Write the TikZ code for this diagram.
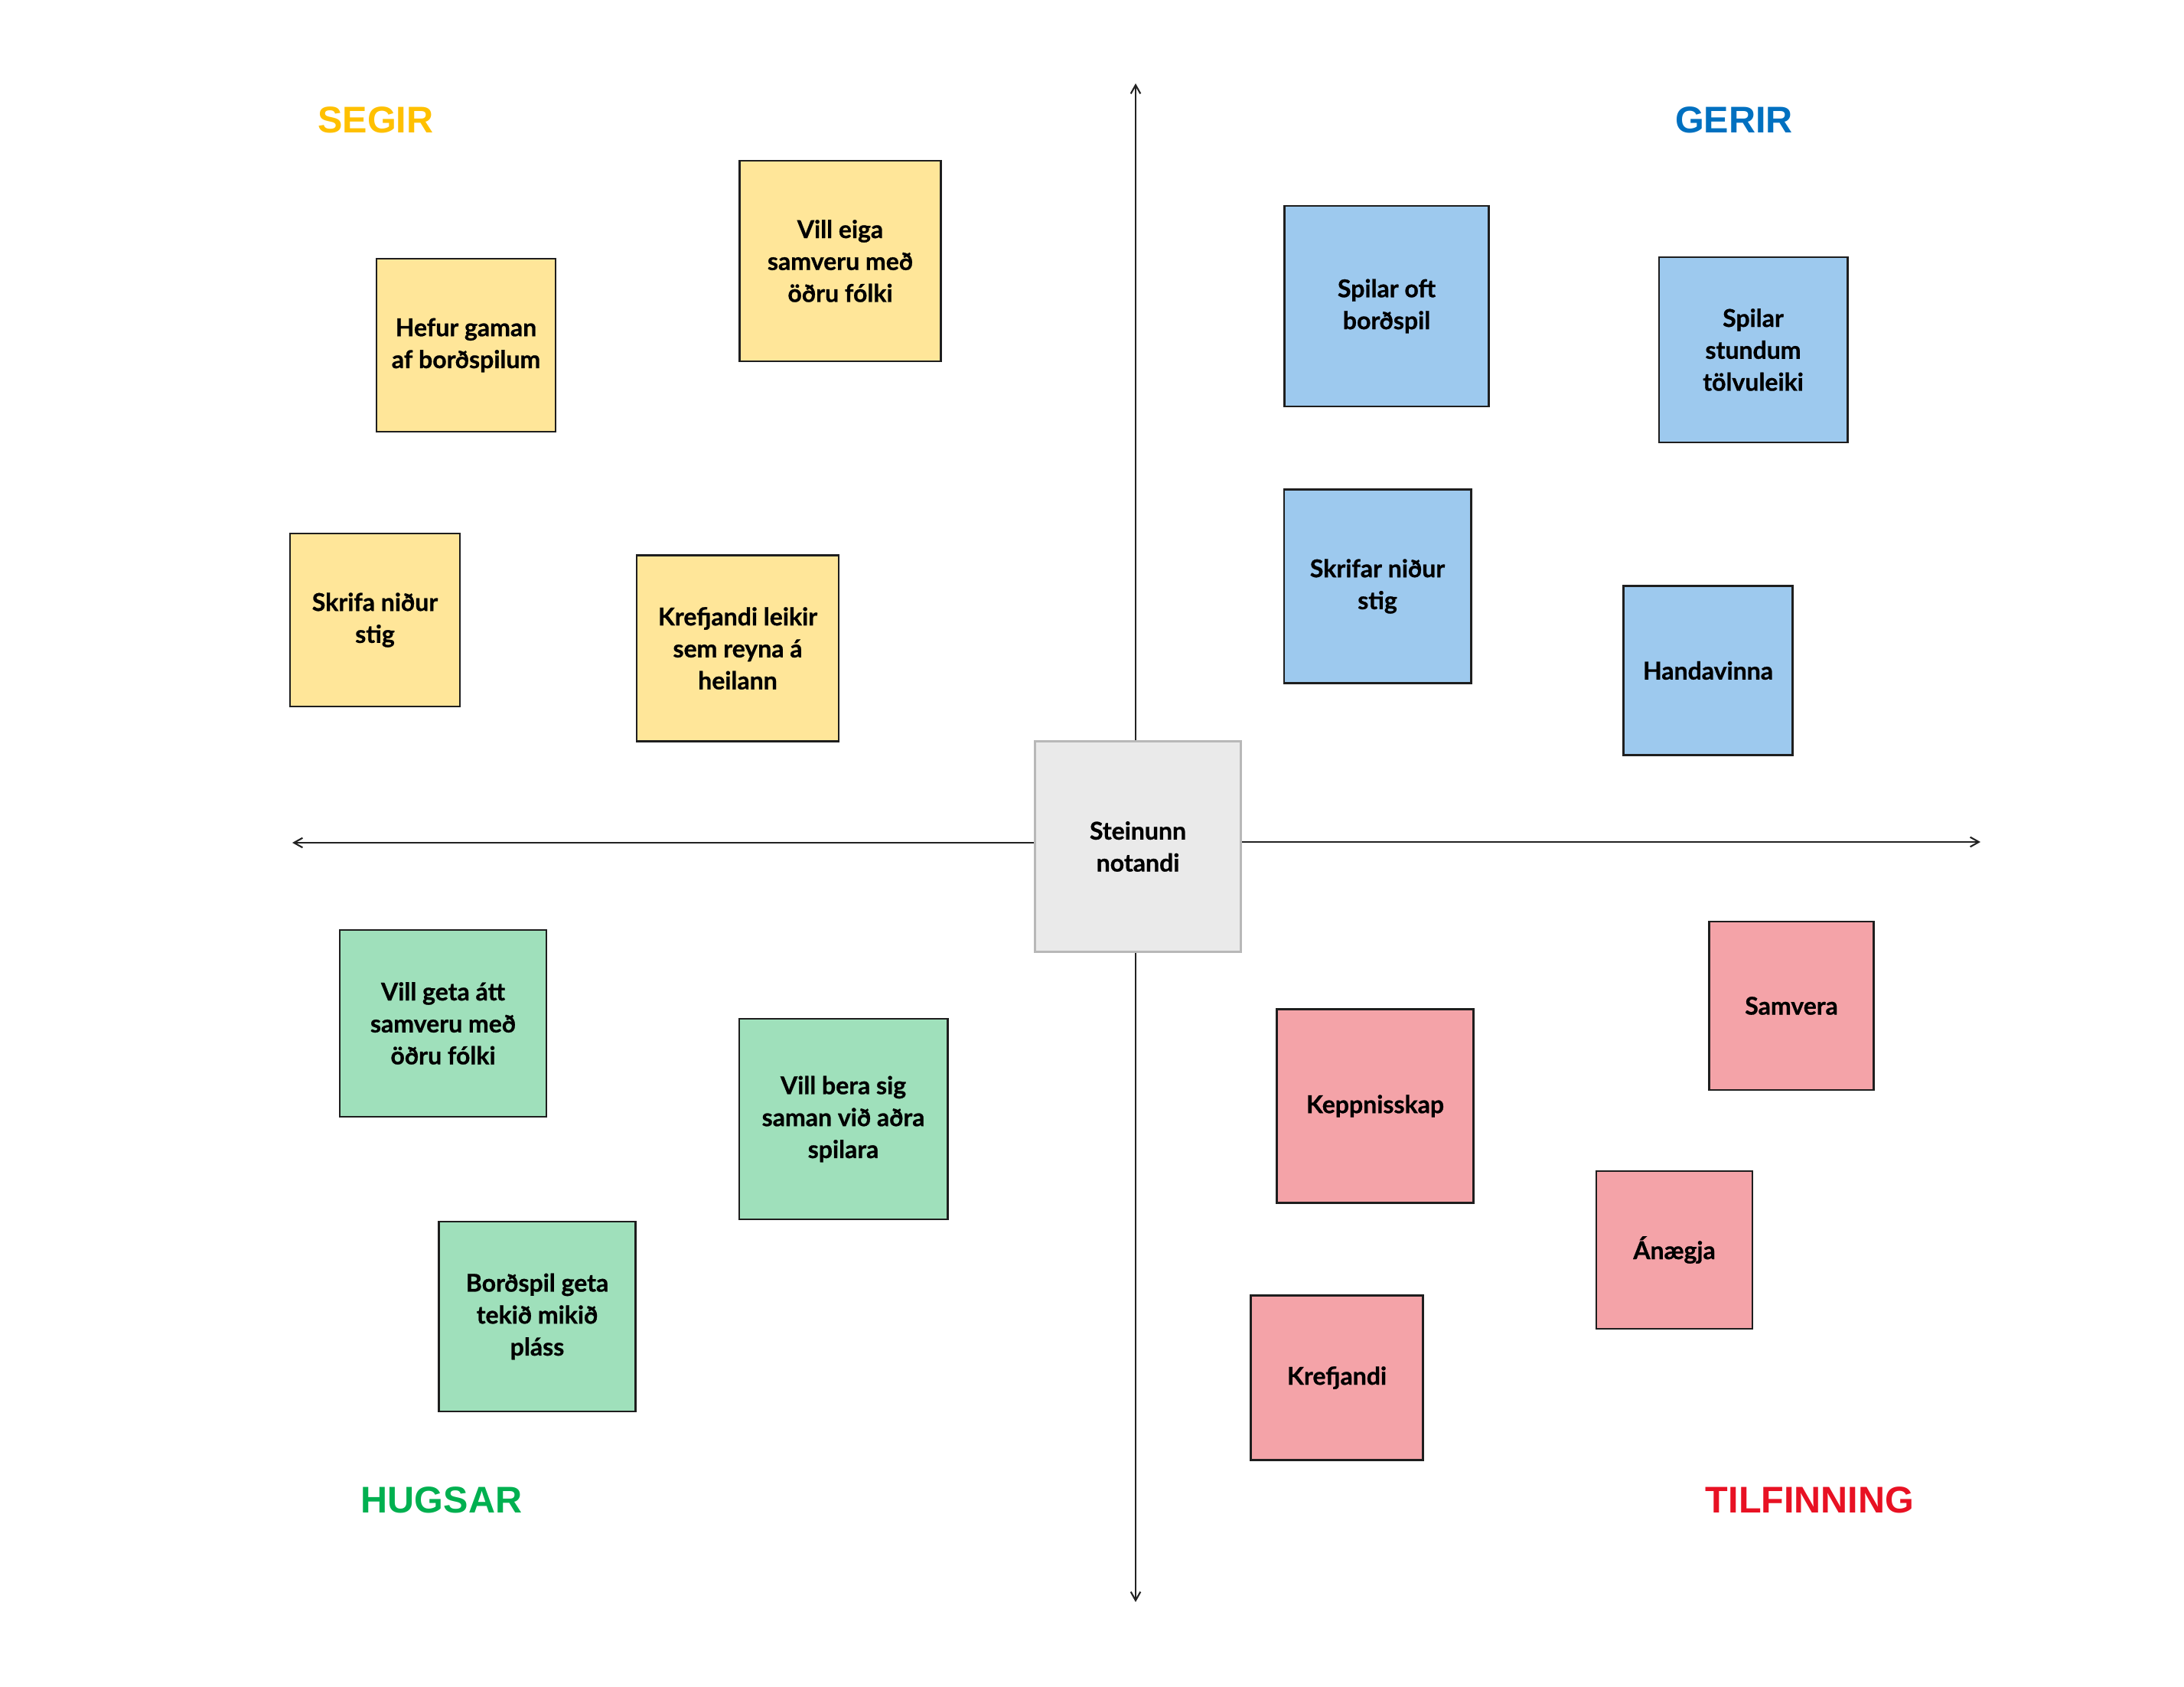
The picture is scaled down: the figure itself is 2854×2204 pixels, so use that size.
\documentclass[tikz,border=0pt]{standalone}
\usepackage{fontspec}
\setmainfont{Lato}[BoldFeatures={FakeBold=0.8}]
\newfontfamily\headfont{Liberation Sans}
\usetikzlibrary{arrows.meta}
\definecolor{ylw}{RGB}{255,230,153}
\definecolor{blu}{RGB}{157,201,238}
\definecolor{grn}{RGB}{159,224,187}
\definecolor{pnk}{RGB}{244,163,168}
\definecolor{ctr}{RGB}{234,234,234}
\definecolor{ctrbd}{RGB}{184,184,184}
\definecolor{notebd}{RGB}{30,30,30}
\definecolor{axis}{RGB}{34,34,34}
\definecolor{hsegir}{RGB}{255,192,0}
\definecolor{hgerir}{RGB}{0,112,192}
\definecolor{hhugsar}{RGB}{0,176,80}
\definecolor{htilf}{RGB}{232,17,35}
\begin{document}
\begin{tikzpicture}[x=0.01cm,y=-0.01cm,
  note/.style={draw=notebd, line width=0.8pt, inner sep=0pt, align=center,
    font=\fontsize{9.1}{11.87}\selectfont\bfseries},
  center/.style={note, draw=ctrbd, fill=ctr},
  heading/.style={inner sep=0pt, font=\headfont\fontsize{13.8}{16}\selectfont\bfseries},
  axisline/.style={draw=axis, line width=0.6pt, -{Straight Barb[length=3.2pt,width=3.6pt]}}]
\useasboundingbox[fill=white] (0,0) rectangle (2854,2204);

% axes end points
\coordinate (top) at (1484,109);
\coordinate (bot) at (1484,2093);
\coordinate (lft) at (382,1101);
\coordinate (rgt) at (2588,1100);

% center
\node[center, minimum width=2.69cm, minimum height=2.75cm] (C) at (1487,1106) {Steinunn\\notandi};

\draw[axisline] (C.north -| top) -- (top);
\draw[axisline] (C.south -| bot) -- (bot);
\draw[axisline] (C.west |- lft) -- (lft);
\draw[axisline] (C.east |- rgt) -- (rgt);

% headings
\node[heading, text=hsegir] (hS) at (491,157) {SEGIR};
\node[heading, text=hgerir] (hG) at (2266,157) {GERIR};
\node[heading, text=hhugsar] (hH) at (577,1960) {HUGSAR};
\node[heading, text=htilf] (hT) at (2365,1960) {TILFINNING};

% SEGIR (yellow)
\node[note, fill=ylw, minimum width=2.34cm, minimum height=2.26cm] (y1) at (609,451) {Hefur gaman\\af borðspilum};
\node[note, fill=ylw, minimum width=2.63cm, minimum height=2.62cm] (y2) at (1098,341) {Vill eiga\\samveru með\\öðru fólki};
\node[note, fill=ylw, minimum width=2.22cm, minimum height=2.26cm] (y3) at (490,810) {Skrifa niður\\stig};
\node[note, fill=ylw, minimum width=2.64cm, minimum height=2.43cm] (y4) at (964,847) {Krefjandi leikir\\sem reyna á\\heilann};

% GERIR (blue)
\node[note, fill=blu, minimum width=2.67cm, minimum height=2.62cm] (b1) at (1812,400) {Spilar oft\\borðspil};
\node[note, fill=blu, minimum width=2.46cm, minimum height=2.42cm] (b2) at (2291,457) {Spilar\\stundum\\tölvuleiki};
\node[note, fill=blu, minimum width=2.44cm, minimum height=2.53cm] (b3) at (1800,766) {Skrifar niður\\stig};
\node[note, fill=blu, minimum width=2.21cm, minimum height=2.21cm] (b4) at (2232,876) {Handavinna};

% HUGSAR (green)
\node[note, fill=grn, minimum width=2.70cm, minimum height=2.44cm] (g1) at (579,1337) {Vill geta átt\\samveru með\\öðru fólki};
\node[note, fill=grn, minimum width=2.72cm, minimum height=2.62cm] (g2) at (1102,1462) {Vill bera sig\\saman við aðra\\spilara};
\node[note, fill=grn, minimum width=2.57cm, minimum height=2.48cm] (g3) at (702,1720) {Borðspil geta\\tekið mikið\\pláss};

% TILFINNING (pink)
\node[note, fill=pnk, minimum width=2.15cm, minimum height=2.20cm] (r1) at (2341,1314) {Samvera};
\node[note, fill=pnk, minimum width=2.57cm, minimum height=2.53cm] (r2) at (1797,1445) {Keppnisskap};
\node[note, fill=pnk, minimum width=2.04cm, minimum height=2.06cm] (r3) at (2188,1633) {Ánægja};
\node[note, fill=pnk, minimum width=2.25cm, minimum height=2.15cm] (r4) at (1747,1800) {Krefjandi};
\end{tikzpicture}
\end{document}
